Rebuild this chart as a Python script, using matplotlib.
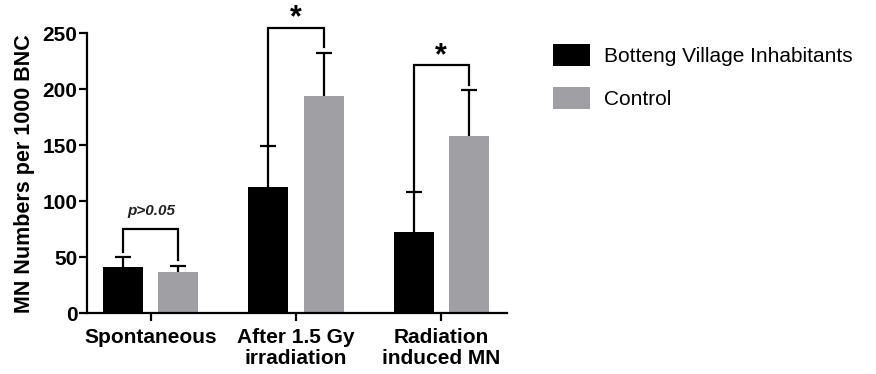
import matplotlib
matplotlib.use("Agg")
import matplotlib.pyplot as plt
import numpy as np

plt.rcParams['font.family'] = ['Liberation Sans', 'DejaVu Sans']

categories = ["Spontaneous", "After 1.5 Gy\nirradiation", "Radiation\ninduced MN"]
series_names = ["Botteng Village Inhabitants", "Control"]
botteng_mean = [41.4, 112.8, 72.6]
botteng_err = [9.0, 36.6, 35.7]
control_mean = [36.3, 193.8, 158.3]
control_err = [5.7, 38.6, 40.8]
sig_labels = ["p>0.05", "*", "*"]
yticks = [0, 50, 100, 150, 200, 250]

fig = plt.figure(figsize=(8.76, 3.74), dpi=100)
ax = fig.add_axes([0.0993, 0.163, 0.4797, 0.748])

x = np.arange(len(categories))
w = 0.276
off = 0.19
black = "#000000"
gray = "#a0a0a4"

ax.bar(x - off, botteng_mean, w, color=black, label=series_names[0], zorder=2)
ax.bar(x + off, control_mean, w, color=gray, label=series_names[1], zorder=2)
for xs, m, e in [(x - off, botteng_mean, botteng_err), (x + off, control_mean, control_err)]:
    eb = ax.errorbar(xs, m, yerr=[np.zeros(3), e], fmt='none',
                     ecolor='black', elinewidth=1.6, capsize=6, capthick=1.6, zorder=1)
    caps = eb[1]
    if len(caps) == 2:
        caps[0].set_visible(False)

# significance brackets
bracket_top = [74.7, 254.7, 221.4]
left_end = [54.6, 149.4, 108.3]
right_end = [47.3, 237.8, 203.6]
for i in range(3):
    xl, xr = x[i] - off, x[i] + off
    ax.plot([xl, xl, xr, xr], [left_end[i], bracket_top[i], bracket_top[i], right_end[i]],
            color='black', lw=1.6, clip_on=False, zorder=3, solid_joinstyle='miter')
    if sig_labels[i] == "*":
        ax.text(x[i], bracket_top[i] - 5, "*", ha='center', va='bottom', fontsize=22,
                fontweight='bold', clip_on=False)
    else:
        ax.text(x[i], 91, sig_labels[i], ha='center', va='center',
                fontsize=11, fontweight='bold', style='italic', color='#222222')

ax.set_xlim(-0.44, 2.455)
ax.set_ylim(0, 250)
ax.set_yticks(yticks)
ax.set_xticks(x)
ax.set_xticklabels(categories, fontsize=15, fontweight='bold', linespacing=1.15)
for lab in ax.get_yticklabels():
    lab.set_fontsize(15)
    lab.set_fontweight('bold')
ax.set_ylabel("MN Numbers per 1000 BNC", fontsize=15.5, fontweight='bold', labelpad=5)

for s in ['top', 'right']:
    ax.spines[s].set_visible(False)
for s in ['left', 'bottom']:
    ax.spines[s].set_linewidth(1.6)
ax.tick_params(axis='both', width=1.6, length=5.5, direction='out')
ax.tick_params(axis='y', pad=1.5)
ax.tick_params(axis='x', pad=5)

leg = ax.legend(loc='upper left', bbox_to_anchor=(1.065, 1.03), frameon=False,
                fontsize=15, handlelength=1.75, handleheight=1.25, labelspacing=1.0,
                handletextpad=0.7)

fig.savefig("out.png", dpi=100)
